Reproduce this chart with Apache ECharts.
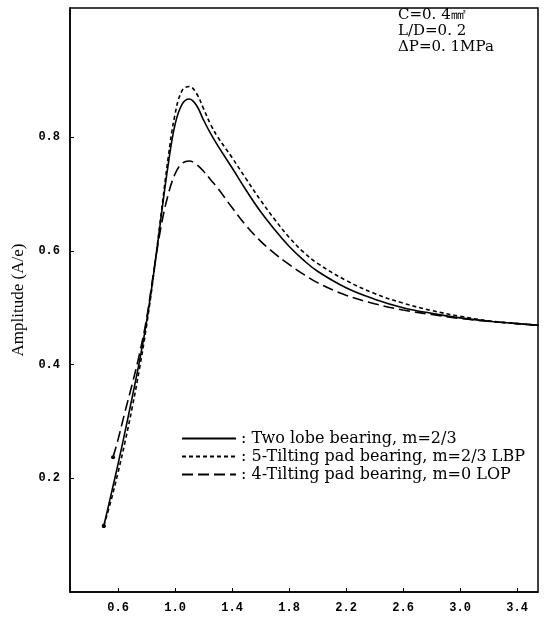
<!DOCTYPE html>
<html>
<head>
<meta charset="utf-8">
<script src="https://cdn.jsdelivr.net/npm/echarts@6/dist/echarts.min.js"></script>
<style>
  html, body { margin: 0; padding: 0; background: #fff; }
  #amplitude { width: 545px; height: 621px; }
</style>
</head>
<body>
<div id="amplitude"></div>
<script>
  // values, one pair of lists per curve
  var xTwoLobe = [0.50, 0.55, 0.60, 0.65, 0.70, 0.75, 0.80, 0.85, 0.90, 0.95, 1.00, 1.05, 1.10, 1.15, 1.20, 1.25, 1.30, 1.40, 1.50, 1.60, 1.70, 1.80, 1.90, 2.00, 2.20, 2.40, 2.60, 2.80, 3.00, 3.20, 3.40, 3.55]
  var yTwoLobe = [0.116, 0.170, 0.225, 0.283, 0.343, 0.405, 0.475, 0.560, 0.655, 0.748, 0.822, 0.858, 0.867, 0.856, 0.830, 0.806, 0.785, 0.746, 0.706, 0.669, 0.637, 0.608, 0.584, 0.564, 0.535, 0.515, 0.500, 0.490, 0.482, 0.476, 0.472, 0.469]

  var xFivePad = [0.50, 0.55, 0.60, 0.65, 0.70, 0.75, 0.80, 0.85, 0.90, 0.95, 1.00, 1.05, 1.10, 1.15, 1.20, 1.25, 1.30, 1.40, 1.50, 1.60, 1.70, 1.80, 1.90, 2.00, 2.20, 2.40, 2.60, 2.80, 3.00, 3.20, 3.40, 3.55]
  var yFivePad = [0.116, 0.160, 0.210, 0.265, 0.325, 0.392, 0.468, 0.558, 0.660, 0.760, 0.840, 0.882, 0.889, 0.877, 0.850, 0.822, 0.800, 0.764, 0.726, 0.689, 0.655, 0.624, 0.598, 0.578, 0.548, 0.525, 0.508, 0.495, 0.485, 0.477, 0.472, 0.469]

  var xFourPad = [0.565, 0.60, 0.65, 0.70, 0.75, 0.80, 0.85, 0.90, 0.95, 1.00, 1.05, 1.10, 1.15, 1.20, 1.25, 1.30, 1.40, 1.50, 1.60, 1.70, 1.80, 1.90, 2.00, 2.20, 2.40, 2.60, 2.80, 3.00, 3.20, 3.40, 3.55]
  var yFourPad = [0.237, 0.268, 0.318, 0.366, 0.418, 0.480, 0.563, 0.640, 0.697, 0.735, 0.754, 0.758, 0.752, 0.740, 0.725, 0.710, 0.676, 0.644, 0.617, 0.595, 0.576, 0.559, 0.544, 0.522, 0.507, 0.496, 0.488, 0.481, 0.476, 0.472, 0.469]

  var xTicks = [0.6, 1.0, 1.4, 1.8, 2.2, 2.6, 3.0, 3.4]
  var yTicks = [0.2, 0.4, 0.6, 0.8]

  var names = [': Two lobe bearing, m=2/3', ': 5-Tilting pad bearing, m=2/3 LBP', ': 4-Tilting pad bearing, m=0 LOP']

  // first point of each curve carries the small start marker seen in the scan
  function pairs(xs, ys) {
    return xs.map(function (x, i) {
      if (i === 0) return { value: [x, ys[i]], symbol: 'circle', symbolSize: 4 }
      return [x, ys[i]]
    })
  }

  function curve(name, dash, xs, ys) {
    return {
      name: name,
      type: 'line',
      smooth: 0.4,
      symbol: 'none',
      lineStyle: { color: '#000', width: 1.6, type: dash },
      itemStyle: { color: '#000' },
      data: pairs(xs, ys)
    }
  }

  var chart = echarts.init(document.getElementById('amplitude'))
  chart.setOption({
    animation: false,
    backgroundColor: '#fff',
    grid: {
      left: 70,
      right: 7,
      top: 8,
      bottom: 29,
      show: true,
      borderColor: '#000',
      borderWidth: 1.5
    },
    legend: {
      orient: 'vertical',
      left: 176,
      top: 425,
      itemWidth: 54,
      itemHeight: 10,
      itemGap: 1,
      data: names,
      itemStyle: { opacity: 0 },
      textStyle: {
        fontFamily: 'DejaVu Serif',
        fontSize: 16,
        lineHeight: 17,
        color: '#000'
      }
    },
    graphic: [
      {
        type: 'text',
        left: 398,
        top: 7,
        style: {
          text: 'C=0. 4㎟\nL/D=0. 2\nΔP=0. 1MPa',
          font: '15px "DejaVu Serif"',
          lineHeight: 16,
          fill: '#000'
        }
      }
    ],
    xAxis: {
      type: 'value',
      min: 0.263,
      max: 3.547,
      axisLine: { lineStyle: { color: '#000', width: 1.5 } },
      axisTick: { inside: true, length: 4, customValues: xTicks, lineStyle: { color: '#000' } },
      axisLabel: {
        customValues: xTicks,
        formatter: function (v) { return v.toFixed(1) },
        fontFamily: 'Liberation Mono',
        fontWeight: 'bold',
        fontSize: 12,
        color: '#000',
        margin: 10
      },
      splitLine: { show: false }
    },
    yAxis: {
      type: 'value',
      min: 0,
      max: 1.027,
      name: 'Amplitude (A/e)',
      nameLocation: 'middle',
      nameGap: 34,
      nameTextStyle: { fontFamily: 'Liberation Serif', fontSize: 17, color: '#000' },
      axisLine: { lineStyle: { color: '#000', width: 1.5 } },
      axisTick: { inside: true, length: 4, customValues: yTicks, lineStyle: { color: '#000' } },
      axisLabel: {
        customValues: yTicks,
        formatter: function (v) { return v.toFixed(1) },
        fontFamily: 'Liberation Mono',
        fontWeight: 'bold',
        fontSize: 12,
        color: '#000',
        margin: 10
      },
      splitLine: { show: false }
    },
    series: [
      curve(names[0], 'solid', xTwoLobe, yTwoLobe),
      curve(names[1], [4, 3], xFivePad, yFivePad),
      curve(names[2], [11, 5], xFourPad, yFourPad)
    ]
  })
</script>
</body>
</html>
